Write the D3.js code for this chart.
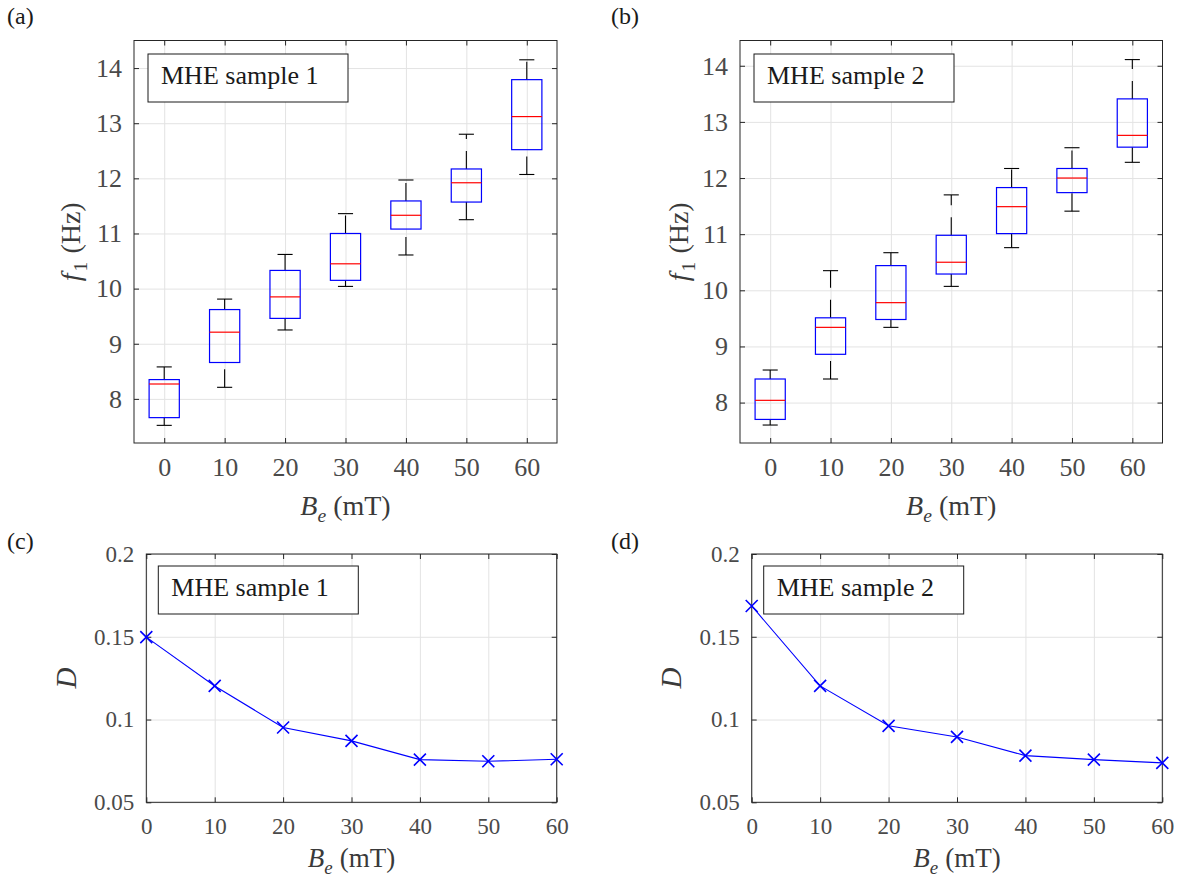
<!DOCTYPE html>
<html lang="en">
<head>
<meta charset="UTF-8">
<title>MHE samples - f1 and D versus Be</title>
<script src="https://d3js.org/d3.v7.min.js"></script>
<style>
html, body {
  margin: 0;
  padding: 0;
  background-color: white;
}
#chart svg, #chart svg text {
  font-family: "Liberation Serif", "DejaVu Serif", "Noto Serif", "Times New Roman", serif !important;
}
.grid line {
  stroke: #e3e3e3;
  stroke-width: 1px;
}
.grid path {
  display: none;
}
.ticks path {
  display: none;
}
.ticks line {
  stroke: #262626;
  stroke-width: 1px;
}
.ticks text {
  fill: #4a4a4a;
}
.frame {
  fill: none;
  stroke: #262626;
  stroke-width: 1px;
}
.legend rect {
  fill: white;
  stroke: #1a1a1a;
  stroke-width: 1px;
}
.legend text {
  fill: #1a1a1a;
  font-size: 26px;
}
.axis-label {
  fill: #3a3a3a;
}
.panel-label {
  fill: #1a1a1a;
  font-size: 24px;
}
</style>
</head>
<body>
<div id="chart"></div>
<script>

// --------------------------------------
// Data
// --------------------------------------

var fields = [0, 10, 20, 30, 40, 50, 60];   // B_e (mT)

// sample 1 box plots of f1 (Hz)
var s1Upper  = [8.58, 9.81, 10.62, 11.36, 11.97, 12.80, 14.15];
var s1Q3     = [8.35, 9.62, 10.33, 11.00, 11.59, 12.17, 13.79];
var s1Median = [8.27, 9.21, 9.85, 10.45, 11.33, 11.92, 13.12];
var s1Q1     = [7.66, 8.66, 9.46, 10.15, 11.08, 11.57, 12.52];
var s1Lower  = [7.52, 8.21, 9.25, 10.04, 10.61, 11.25, 12.07];

// sample 2 box plots of f1 (Hz)
var s2Upper  = [8.58, 10.35, 10.67, 11.70, 12.17, 12.54, 14.11];
var s2Q3     = [8.42, 9.51, 10.44, 10.98, 11.83, 12.17, 13.41];
var s2Median = [8.04, 9.34, 9.78, 10.50, 11.49, 12.00, 12.76];
var s2Q1     = [7.70, 8.86, 9.48, 10.29, 11.01, 11.74, 12.55];
var s2Lower  = [7.60, 8.42, 9.34, 10.07, 10.76, 11.41, 12.28];

// damping D
var d1 = [0.1498, 0.1203, 0.0952, 0.0871, 0.0758, 0.0748, 0.0760];
var d2 = [0.1686, 0.1203, 0.0962, 0.0895, 0.0782, 0.0758, 0.0738];

// tick values
var fTicks = [8, 9, 10, 11, 12, 13, 14];
var dTicks = [0.05, 0.1, 0.15, 0.2];
var xTicks = [0, 10, 20, 30, 40, 50, 60];

var legendTexts = ["MHE sample 1", "MHE sample 2"];

// --------------------------------------
// Layout
// --------------------------------------

var totalWidth = 1179;
var totalHeight = 879;
var serif = '"Liberation Serif", "DejaVu Serif", "Noto Serif", serif';

var svg = d3.select('#chart')
  .append("svg")
  .attr("width", totalWidth)
  .attr("height", totalHeight)
  .style("font-family", serif);

var panels = [
  {label: "(a)", lx: 7,   ly: 24,  left: 134,   right: 557,    top: 40.5, bottom: 443,
   ydom: [7.2, 14.5],  fs: 26, labFs: 28, ylabOff: 62, xlabY: 72},
  {label: "(b)", lx: 611, ly: 24,  left: 740,   right: 1162.5, top: 40.5, bottom: 443,
   ydom: [7.28, 14.45], fs: 26, labFs: 28, ylabOff: 60, xlabY: 72},
  {label: "(c)", lx: 7,   ly: 549, left: 146.3, right: 556.7,  top: 554,  bottom: 802.3,
   ydom: [0.05, 0.2], fs: 23, labFs: 27, ylabOff: 79, xlabY: 65},
  {label: "(d)", lx: 611, ly: 549, left: 751.7, right: 1162.3, top: 554,  bottom: 802.3,
   ydom: [0.05, 0.2], fs: 23, labFs: 27, ylabOff: 79, xlabY: 65}
];

// --------------------------------------
// Helpers
// --------------------------------------

function drawAxes(g, p, x, y, yTicks) {
  var w = p.right - p.left;
  var h = p.bottom - p.top;
  var xt = x.domain().length > 2 ? x.domain() : xTicks;

  // grid
  g.append("g").attr("class", "grid")
    .attr("transform", `translate(0,${h})`)
    .call(d3.axisBottom(x).tickValues(xt).tickSize(-h).tickFormat(""));
  g.append("g").attr("class", "grid")
    .call(d3.axisLeft(y).tickValues(yTicks).tickSize(-w).tickFormat(""));

  g.append("rect").attr("class", "frame")
    .attr("width", w).attr("height", h);

  // ticks, pointing inwards on all four sides
  g.append("g").attr("class", "ticks")
    .attr("transform", `translate(0,${h})`)
    .call(d3.axisBottom(x).tickValues(xt).tickSizeInner(-5).tickSizeOuter(0)
      .tickPadding(15).tickFormat(d3.format("")));
  g.append("g").attr("class", "ticks")
    .call(d3.axisTop(x).tickValues(xt).tickSizeInner(-5).tickSizeOuter(0).tickFormat(""));
  g.append("g").attr("class", "ticks")
    .call(d3.axisLeft(y).tickValues(yTicks).tickSizeInner(-5).tickSizeOuter(0)
      .tickPadding(12).tickFormat(d3.format("")));
  g.append("g").attr("class", "ticks")
    .attr("transform", `translate(${w},0)`)
    .call(d3.axisRight(y).tickValues(yTicks).tickSizeInner(-5).tickSizeOuter(0).tickFormat(""));

  g.selectAll(".ticks")
    .attr("font-family", serif)
    .attr("font-size", p.fs);

  // x label: B_e (mT)
  var sub = Math.round(p.labFs * 0.25);
  var xl = g.append("text").attr("class", "axis-label")
    .attr("x", w / 2).attr("y", h + p.xlabY)
    .attr("text-anchor", "middle")
    .style("font-size", p.labFs + "px");
  xl.append("tspan").style("font-style", "italic").text("B");
  xl.append("tspan").style("font-style", "italic").style("font-size", (p.labFs * 0.7) + "px")
    .attr("dy", sub).text("e");
  xl.append("tspan").attr("dy", -sub).attr("dx", 7).text("(mT)");
}

function drawLegend(g, text, x0, y0) {
  var lg = g.append("g").attr("class", "legend")
    .attr("transform", `translate(${x0},${y0})`);
  lg.append("rect").attr("width", 200).attr("height", 48);
  lg.append("text").attr("x", 13).attr("y", 30).text(text);
}

function drawBoxPanel(p, upper, q3, med, q1, lower, legendText) {
  var w = p.right - p.left;
  var h = p.bottom - p.top;
  var g = svg.append("g").attr("transform", `translate(${p.left},${p.top})`);

  var x = d3.scalePoint().domain(fields).range([0, w]).padding(0.5);
  var y = d3.scaleLinear().domain(p.ydom).range([h, 0]);

  drawAxes(g, p, x, y, fTicks);

  var bw = x.step() * 0.5;
  var boxes = g.selectAll(".box").data(fields).join("g").attr("class", "box");

  // whiskers, dashed, both drawn upward
  boxes.append("line")
    .attr("x1", d => x(d)).attr("x2", d => x(d))
    .attr("y1", (d, i) => y(q3[i])).attr("y2", (d, i) => y(upper[i]))
    .attr("stroke", "black").attr("stroke-width", 1.1).attr("stroke-dasharray", "18,12");
  boxes.append("line")
    .attr("x1", d => x(d)).attr("x2", d => x(d))
    .attr("y1", (d, i) => y(lower[i])).attr("y2", (d, i) => y(q1[i]))
    .attr("stroke", "black").attr("stroke-width", 1.1).attr("stroke-dasharray", "18,12");

  // caps
  [upper, lower].forEach(function(arr) {
    boxes.append("line")
      .attr("x1", d => x(d) - bw / 4).attr("x2", d => x(d) + bw / 4)
      .attr("y1", (d, i) => y(arr[i])).attr("y2", (d, i) => y(arr[i]))
      .attr("stroke", "black").attr("stroke-width", 1.1);
  });

  boxes.append("rect")
    .attr("x", d => x(d) - bw / 2).attr("width", bw)
    .attr("y", (d, i) => y(q3[i]))
    .attr("height", (d, i) => y(q1[i]) - y(q3[i]))
    .attr("fill", "none").attr("stroke", "#0000ff").attr("stroke-width", 1.2);

  boxes.append("line")
    .attr("x1", d => x(d) - bw / 2).attr("x2", d => x(d) + bw / 2)
    .attr("y1", (d, i) => y(med[i])).attr("y2", (d, i) => y(med[i]))
    .attr("stroke", "#ff0000").attr("stroke-width", 1.2);

  drawLegend(g, legendText, 14, 13.5);

  // y label: f_1 (Hz)
  var sub = Math.round(p.labFs * 0.25);
  var yl = g.append("text").attr("class", "axis-label")
    .attr("transform", `translate(${-p.ylabOff},${h / 2}) rotate(-90)`)
    .attr("text-anchor", "middle").attr("dy", "0.3em")
    .style("font-size", p.labFs + "px");
  yl.append("tspan").style("font-style", "italic").text("f");
  yl.append("tspan").style("font-size", (p.labFs * 0.7) + "px").attr("dy", sub).attr("dx", 2).text("1");
  yl.append("tspan").attr("dy", -sub).attr("dx", 8).text("(Hz)");

  svg.append("text").attr("class", "panel-label")
    .attr("x", p.lx).attr("y", p.ly).text(p.label);
}

function drawLinePanel(p, values, legendText) {
  var w = p.right - p.left;
  var h = p.bottom - p.top;
  var g = svg.append("g").attr("transform", `translate(${p.left},${p.top})`);

  var x = d3.scaleLinear().domain([0, 60]).range([0, w]);
  var y = d3.scaleLinear().domain(p.ydom).range([h, 0]);

  drawAxes(g, p, x, y, dTicks);

  var line = d3.line()
    .x((d, i) => x(fields[i]))
    .y(d => y(d));

  g.append("path").datum(values)
    .attr("fill", "none").attr("stroke", "#0000ff").attr("stroke-width", 1.1)
    .attr("d", line);

  var m = 6;
  g.selectAll(".mark").data(values).join("path")
    .attr("class", "mark")
    .attr("transform", (d, i) => `translate(${x(fields[i])},${y(d)})`)
    .attr("d", `M${-m},${-m}L${m},${m}M${-m},${m}L${m},${-m}`)
    .attr("stroke", "#0000ff").attr("stroke-width", 1.6).attr("fill", "none");

  drawLegend(g, legendText, 12, 12);

  g.append("text").attr("class", "axis-label")
    .attr("transform", `translate(${-p.ylabOff},${h / 2}) rotate(-90)`)
    .attr("text-anchor", "middle").attr("dy", "0.3em")
    .style("font-size", (p.labFs + 2) + "px").style("font-style", "italic")
    .text("D");

  svg.append("text").attr("class", "panel-label")
    .attr("x", p.lx).attr("y", p.ly).text(p.label);
}

// --------------------------------------
// Panels
// --------------------------------------

drawBoxPanel(panels[0], s1Upper, s1Q3, s1Median, s1Q1, s1Lower, legendTexts[0]);
drawBoxPanel(panels[1], s2Upper, s2Q3, s2Median, s2Q1, s2Lower, legendTexts[1]);
drawLinePanel(panels[2], d1, legendTexts[0]);
drawLinePanel(panels[3], d2, legendTexts[1]);

</script>
</body>
</html>
